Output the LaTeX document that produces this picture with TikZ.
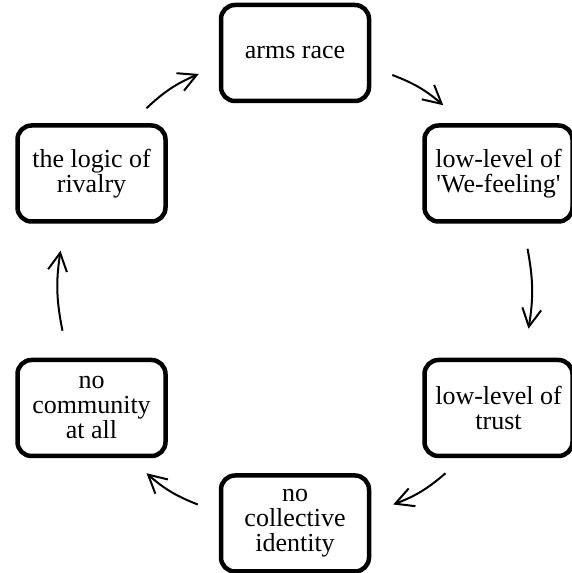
\documentclass[tikz,border=0pt]{standalone}
\usepackage{fontspec}
\setmainfont{Liberation Serif}
\usetikzlibrary{positioning,arrows.meta}

\begin{document}
\begin{tikzpicture}[
  x=1pt, y=1pt,
  node distance=134pt and 51pt,
  box/.style={draw, line width=4.5pt, rounded corners=14pt, minimum width=148pt,
              minimum height=96pt, inner sep=2pt, align=center,
              font=\fontsize{26}{25}\selectfont},
  arr/.style={-{Straight Barb[length=18pt, width=19pt]}, line width=2pt, bend left=10}
]
  \useasboundingbox (0,0) rectangle (571,573);

  \node[box] (arms) at (295,520) {arms race};
  \node[box, below right=20pt and 51pt of arms] (wefeel)
    {low-level of\\\textquotesingle We-feeling\textquotesingle};
  \node[box, below=of wefeel] (trust) {low-level of\\trust};
  \node[box, below left=15pt and 51pt of trust] (collective) {no\\collective\\identity};
  \node[box, above left=15pt and 51pt of collective] (community) {no\\community\\at all};
  \node[box, above=of community] (rivalry) {the logic of\\rivalry};

  \draw[arr] ([shift={(21,-22)}]arms.east) to ([shift={(21,18)}]wefeel.north west);
  \draw[arr] ([shift={(29,-25)}]wefeel.south) to ([shift={(30,29)}]trust.north);
  \draw[arr] ([shift={(-53,-15)}]trust.south) to ([shift={(22,19)}]collective.east);
  \draw[arr] ([shift={(-21,19)}]collective.west) to ([shift={(55,-15)}]community.south);
  \draw[arr] ([shift={(-29,27)}]community.north) to ([shift={(-31,-27)}]rivalry.south);
  \draw[arr] ([shift={(55,15)}]rivalry.north) to ([shift={(-20,-21)}]arms.west);
\end{tikzpicture}
\end{document}
